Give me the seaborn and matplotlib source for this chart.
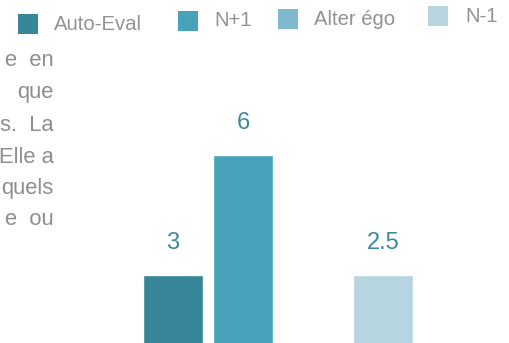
import matplotlib
matplotlib.use('Agg')
import matplotlib.pyplot as plt
import seaborn as sns
import pandas as pd
from matplotlib.patches import Rectangle

# ---- data ----
categories = ["Auto-Eval", "N+1", "Alter égo", "N-1"]
bar_heights = [3, 6, 0, 3]
value_labels = ["3", "6", "", "2.5"]
colors = ["#38869A", "#47A2BA", "#7FB9CD", "#B6D5E0"]
text_lines = ["e  en", "que", "s.  La", "Elle a", "quels", "e  ou"]

sns.set_theme(style="white")
plt.rcParams['font.family'] = ['Liberation Sans', 'DejaVu Sans']

W, H = 510, 343
fig = plt.figure(figsize=(W / 100, H / 100), dpi=100)
fig.patch.set_facecolor('white')


def fx(px):
    return px / W


def fy(py):
    return 1 - py / H


# axes: 70 px per category, 40 px per unit, zero line below the visible area
ax = fig.add_axes([fx(138), fy(395), 280 / W, 320 / H])
df = pd.DataFrame({"cat": categories, "val": bar_heights})
sns.barplot(data=df, x="cat", y="val", hue="cat", order=categories,
            hue_order=categories, palette=colors, saturation=1,
            width=60 / 70, legend=False, ax=ax)
ax.set_xlim(-0.5, 3.5)
ax.set_ylim(0, 8)
ax.set_axis_off()

for i, (h, lab) in enumerate(zip(bar_heights, value_labels)):
    if lab:
        ax.annotate(lab, (i, h), xytext=(0, 26 * 0.72), textcoords='offset points',
                    ha='center', va='baseline', fontsize=17, color='#3B8A9C')

# legend (slightly staggered, as in the reference)
leg_sq = [(18, 14), (178, 11), (278, 9), (428, 6)]
leg_tx = [(54, 30), (214, 26), (314, 25), (465, 22)]
for c, lab, (sx, sy), (tx, ty) in zip(colors, categories, leg_sq, leg_tx):
    fig.add_artist(Rectangle((fx(sx), fy(sy + 20)), 20 / W, 20 / H,
                             transform=fig.transFigure, color=c, lw=0))
    fig.text(fx(tx), fy(ty), lab, fontsize=14.6, color='#929292', va='baseline')

# clipped paragraph on the left
baselines = [66, 98, 131, 163, 194, 225]
for line, b in zip(text_lines, baselines):
    fig.text(fx(53.5), fy(b), line, ha='right', va='baseline', fontsize=15.8,
             color='#8e8e8e')

fig.savefig('out.png', dpi=100)
